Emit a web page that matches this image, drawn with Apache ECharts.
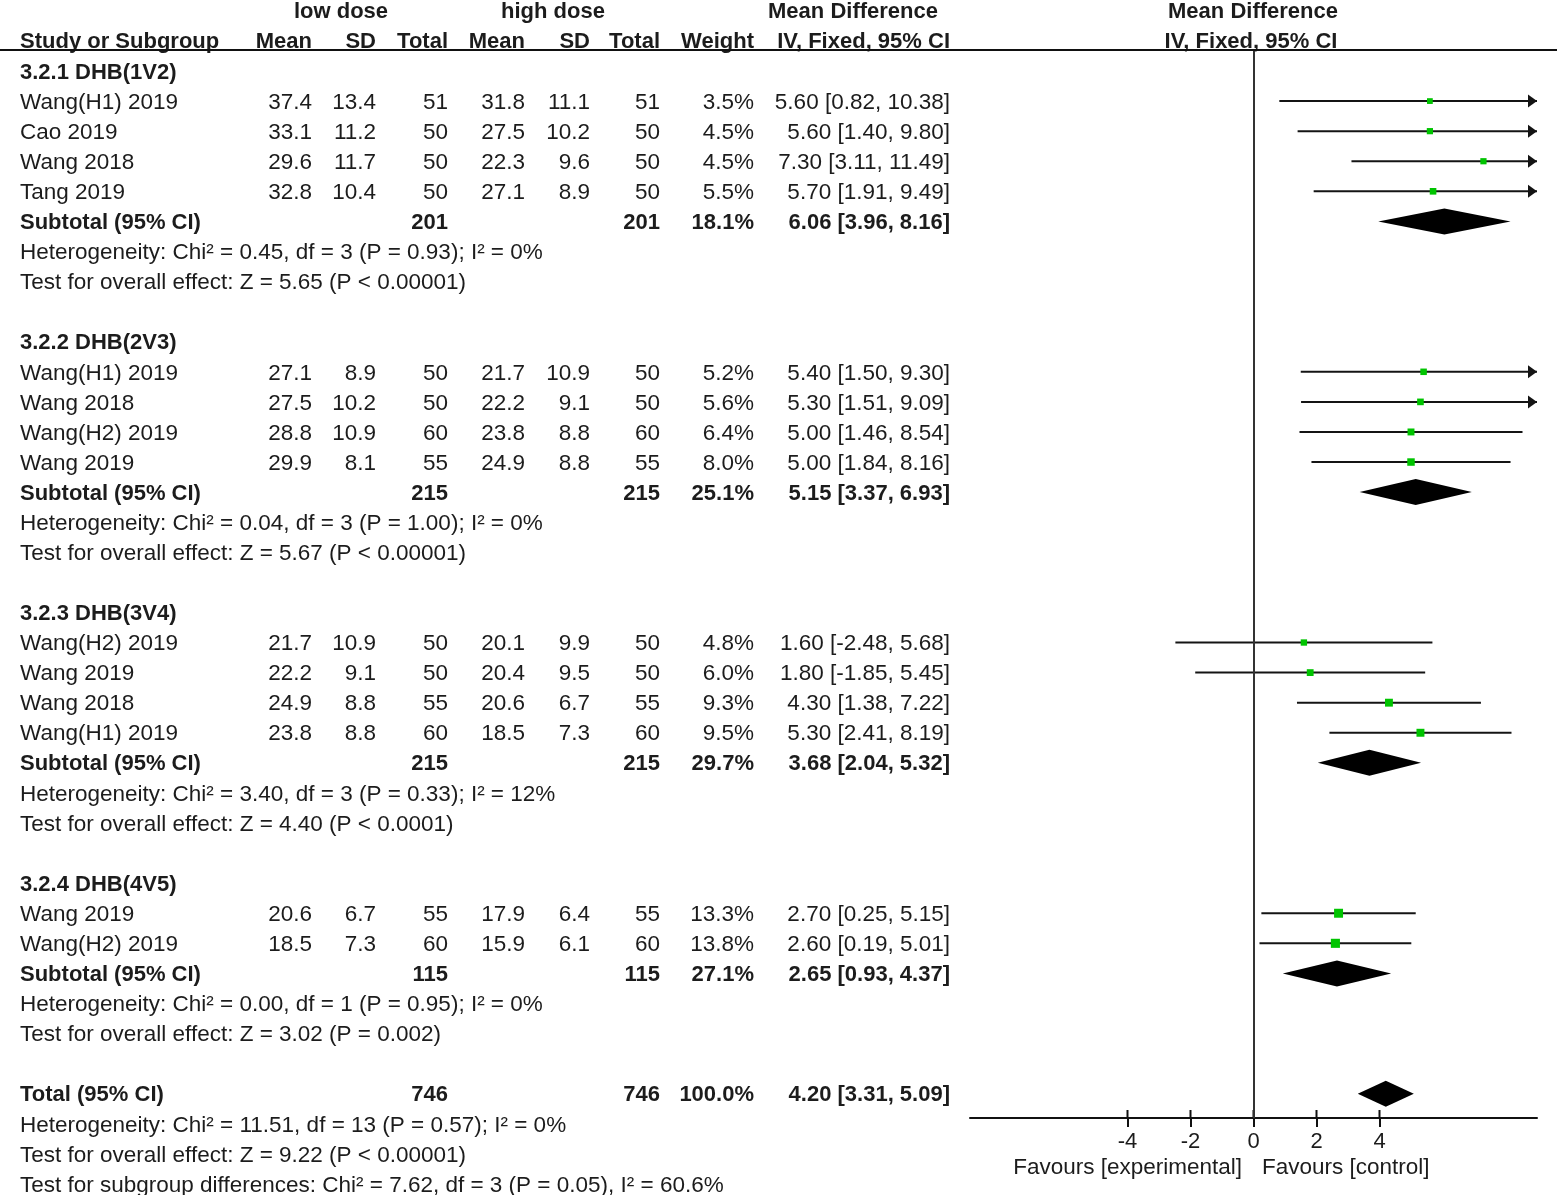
<!DOCTYPE html>
<html>
<head>
<meta charset="utf-8">
<script src="https://cdn.jsdelivr.net/npm/echarts@6/dist/echarts.min.js"></script>
<style>
html,body{margin:0;padding:0;background:#fff;}
#chart{width:1557px;height:1195px;}
</style>
</head>
<body>
<div id="chart"></div>
<script>
// ---------------- DATA ----------------
const subgroupTitles = ['3.2.1 DHB(1V2)', '3.2.2 DHB(2V3)', '3.2.3 DHB(3V4)', '3.2.4 DHB(4V5)'];
const studyGroup = [0, 0, 0, 0, 1, 1, 1, 1, 2, 2, 2, 2, 3, 3];
const studyNames = ['Wang(H1) 2019', 'Cao 2019', 'Wang 2018', 'Tang 2019',
  'Wang(H1) 2019', 'Wang 2018', 'Wang(H2) 2019', 'Wang 2019',
  'Wang(H2) 2019', 'Wang 2019', 'Wang 2018', 'Wang(H1) 2019',
  'Wang 2019', 'Wang(H2) 2019'];
const lowMean = [37.4, 33.1, 29.6, 32.8, 27.1, 27.5, 28.8, 29.9, 21.7, 22.2, 24.9, 23.8, 20.6, 18.5];
const lowSD = [13.4, 11.2, 11.7, 10.4, 8.9, 10.2, 10.9, 8.1, 10.9, 9.1, 8.8, 8.8, 6.7, 7.3];
const lowTotal = [51, 50, 50, 50, 50, 50, 60, 55, 50, 50, 55, 60, 55, 60];
const highMean = [31.8, 27.5, 22.3, 27.1, 21.7, 22.2, 23.8, 24.9, 20.1, 20.4, 20.6, 18.5, 17.9, 15.9];
const highSD = [11.1, 10.2, 9.6, 8.9, 10.9, 9.1, 8.8, 8.8, 9.9, 9.5, 6.7, 7.3, 6.4, 6.1];
const highTotal = [51, 50, 50, 50, 50, 50, 60, 55, 50, 50, 55, 60, 55, 60];
const studyWeight = [3.5, 4.5, 4.5, 5.5, 5.2, 5.6, 6.4, 8.0, 4.8, 6.0, 9.3, 9.5, 13.3, 13.8];
const studyMD = [5.60, 5.60, 7.30, 5.70, 5.40, 5.30, 5.00, 5.00, 1.60, 1.80, 4.30, 5.30, 2.70, 2.60];
const studyLo = [0.82, 1.40, 3.11, 1.91, 1.50, 1.51, 1.46, 1.84, -2.48, -1.85, 1.38, 2.41, 0.25, 0.19];
const studyHi = [10.38, 9.80, 11.49, 9.49, 9.30, 9.09, 8.54, 8.16, 5.68, 5.45, 7.22, 8.19, 5.15, 5.01];

const subtotalLowN = [201, 215, 215, 115];
const subtotalHighN = [201, 215, 215, 115];
const subtotalWeight = [18.1, 25.1, 29.7, 27.1];
const subtotalMD = [6.06, 5.15, 3.68, 2.65];
const subtotalLo = [3.96, 3.37, 2.04, 0.93];
const subtotalHi = [8.16, 6.93, 5.32, 4.37];
const heterogeneityText = [
  'Heterogeneity: Chi² = 0.45, df = 3 (P = 0.93); I² = 0%',
  'Heterogeneity: Chi² = 0.04, df = 3 (P = 1.00); I² = 0%',
  'Heterogeneity: Chi² = 3.40, df = 3 (P = 0.33); I² = 12%',
  'Heterogeneity: Chi² = 0.00, df = 1 (P = 0.95); I² = 0%'
];
const overallEffectText = [
  'Test for overall effect: Z = 5.65 (P < 0.00001)',
  'Test for overall effect: Z = 5.67 (P < 0.00001)',
  'Test for overall effect: Z = 4.40 (P < 0.0001)',
  'Test for overall effect: Z = 3.02 (P = 0.002)'
];
const totalLowN = 746, totalHighN = 746, totalWeight = 100.0;
const totalMD = 4.20, totalLo = 3.31, totalHi = 5.09;
const totalNotes = [
  'Heterogeneity: Chi² = 11.51, df = 13 (P = 0.57); I² = 0%',
  'Test for overall effect: Z = 9.22 (P < 0.00001)',
  'Test for subgroup differences: Chi² = 7.62, df = 3 (P = 0.05), I² = 60.6%'
];
const xTicks = [-4, -2, 0, 2, 4];
const axisMin = -9, axisMax = 9;
const favourLeft = 'Favours [experimental]';
const favourRight = 'Favours [control]';

// ---------------- LAYOUT ----------------
const W = 1557, H = 1195;
const ROW0_Y = 71, ROW_H = 30.08, TEXT_DY = 1.5;
const PLOT_L = 970, PLOT_R = 1537, PLOT_T = 50, PLOT_B = 1118;
const COL = { name: 20, m1: 312, s1: 376, t1: 448, m2: 525, s2: 590, t2: 660, w: 754, ci: 950 };
const FONT = "'Liberation Sans', Arial, sans-serif";
const FS = 22.5, FSB = 22;
const TXT = '#1c1c1c';

const f1 = v => v.toFixed(1);
const f2 = v => v.toFixed(2);
const ciText = (m, l, h) => f2(m) + ' [' + f2(l) + ', ' + f2(h) + ']';

// Build table rows
const tableRows = [];
const studyRows = [];
const diamondRows = [];
tableRows.push({ row: -2, cells: [
  { t: 'low dose', x: 341, a: 'center', b: true },
  { t: 'high dose', x: 553, a: 'center', b: true },
  { t: 'Mean Difference', x: 853, a: 'center', b: true },
  { t: 'Mean Difference', x: 1253, a: 'center', b: true }
]});
tableRows.push({ row: -1, cells: [
  { t: 'Study or Subgroup', x: COL.name, a: 'left', b: true },
  { t: 'Mean', x: COL.m1, a: 'right', b: true },
  { t: 'SD', x: COL.s1, a: 'right', b: true },
  { t: 'Total', x: COL.t1, a: 'right', b: true },
  { t: 'Mean', x: COL.m2, a: 'right', b: true },
  { t: 'SD', x: COL.s2, a: 'right', b: true },
  { t: 'Total', x: COL.t2, a: 'right', b: true },
  { t: 'Weight', x: COL.w, a: 'right', b: true },
  { t: 'IV, Fixed, 95% CI', x: COL.ci, a: 'right', b: true },
  { t: 'IV, Fixed, 95% CI', x: 1251, a: 'center', b: true }
]});
let row = 0;
subgroupTitles.forEach((title, g) => {
  tableRows.push({ row: row, cells: [{ t: title, x: COL.name, a: 'left', b: true }] });
  row++;
  studyNames.forEach((nm, i) => {
    if (studyGroup[i] !== g) return;
    tableRows.push({ row: row, cells: [
      { t: nm, x: COL.name, a: 'left' },
      { t: f1(lowMean[i]), x: COL.m1, a: 'right' },
      { t: f1(lowSD[i]), x: COL.s1, a: 'right' },
      { t: String(lowTotal[i]), x: COL.t1, a: 'right' },
      { t: f1(highMean[i]), x: COL.m2, a: 'right' },
      { t: f1(highSD[i]), x: COL.s2, a: 'right' },
      { t: String(highTotal[i]), x: COL.t2, a: 'right' },
      { t: f1(studyWeight[i]) + '%', x: COL.w, a: 'right' },
      { t: ciText(studyMD[i], studyLo[i], studyHi[i]), x: COL.ci, a: 'right' }
    ]});
    studyRows.push([studyMD[i], studyLo[i], studyHi[i], row, studyWeight[i]]);
    row++;
  });
  tableRows.push({ row: row, cells: [
    { t: 'Subtotal (95% CI)', x: COL.name, a: 'left', b: true },
    { t: String(subtotalLowN[g]), x: COL.t1, a: 'right', b: true },
    { t: String(subtotalHighN[g]), x: COL.t2, a: 'right', b: true },
    { t: f1(subtotalWeight[g]) + '%', x: COL.w, a: 'right', b: true },
    { t: ciText(subtotalMD[g], subtotalLo[g], subtotalHi[g]), x: COL.ci, a: 'right', b: true }
  ]});
  diamondRows.push([subtotalMD[g], subtotalLo[g], subtotalHi[g], row]);
  row++;
  tableRows.push({ row: row, cells: [{ t: heterogeneityText[g], x: COL.name, a: 'left' }] });
  row++;
  tableRows.push({ row: row, cells: [{ t: overallEffectText[g], x: COL.name, a: 'left' }] });
  row++;
  row++; // blank
});
tableRows.push({ row: row, cells: [
  { t: 'Total (95% CI)', x: COL.name, a: 'left', b: true },
  { t: String(totalLowN), x: COL.t1, a: 'right', b: true },
  { t: String(totalHighN), x: COL.t2, a: 'right', b: true },
  { t: f1(totalWeight) + '%', x: COL.w, a: 'right', b: true },
  { t: ciText(totalMD, totalLo, totalHi), x: COL.ci, a: 'right', b: true }
]});
diamondRows.push([totalMD, totalLo, totalHi, row]);
row++;
totalNotes.forEach(n => {
  tableRows.push({ row: row, cells: [{ t: n, x: COL.name, a: 'left' }] });
  row++;
});

const tableYMin = (0 - ROW0_Y) / ROW_H;
const tableYMax = (H - ROW0_Y) / ROW_H;
const plotYMin = (PLOT_T - ROW0_Y) / ROW_H;
const plotYMax = (PLOT_B - ROW0_Y) / ROW_H;

const chart = echarts.init(document.getElementById('chart'), null, { renderer: 'canvas' });
const option = {
  backgroundColor: '#fff',
  animation: false,
  grid: [
    { left: 0, top: 0, width: W, height: H },
    { left: PLOT_L, top: PLOT_T, width: PLOT_R - PLOT_L, height: PLOT_B - PLOT_T }
  ],
  xAxis: [
    { gridIndex: 0, type: 'value', min: 0, max: W, show: false },
    { gridIndex: 1, type: 'value', min: axisMin, max: axisMax, position: 'bottom',
      axisLine: { show: true, onZero: false, lineStyle: { color: '#111', width: 2 } },
      axisTick: { show: true, customValues: xTicks, length: 9, lineStyle: { color: '#111', width: 2 } },
      axisLabel: { show: true, customValues: xTicks, margin: 13, fontSize: 22, fontFamily: FONT, color: TXT },
      splitLine: { show: false } }
  ],
  yAxis: [
    { gridIndex: 0, type: 'value', min: tableYMin, max: tableYMax, inverse: true, show: false },
    { gridIndex: 1, type: 'value', min: plotYMin, max: plotYMax, inverse: true, show: false }
  ],
  graphic: [
    { type: 'line', shape: { x1: 0, y1: PLOT_T, x2: W, y2: PLOT_T }, style: { stroke: '#111', lineWidth: 2 }, z: 10 },
    { type: 'text', x: 1242, y: 1168, style: { text: favourLeft, font: FS + 'px ' + FONT, fill: TXT, align: 'right', verticalAlign: 'middle' } },
    { type: 'text', x: 1262, y: 1168, style: { text: favourRight, font: FS + 'px ' + FONT, fill: TXT, align: 'left', verticalAlign: 'middle' } }
  ],
  series: [
    {
      type: 'custom', name: 'table', xAxisIndex: 0, yAxisIndex: 0, clip: false, silent: true,
      data: tableRows.map(r => [0, r.row]),
      encode: { x: 0, y: 1 },
      renderItem: function (params, api) {
        const r = tableRows[params.dataIndex];
        const y = api.coord([0, r.row])[1] + TEXT_DY;
        return {
          type: 'group',
          children: r.cells.map(c => ({
            type: 'text',
            x: c.x, y: y,
            style: {
              text: c.t,
              font: (c.b ? 'bold ' + FSB : FS) + 'px ' + FONT,
              fill: TXT, align: c.a, verticalAlign: 'middle'
            }
          }))
        };
      }
    },
    {
      // upward half of the axis ticks (ticks cross the axis line)
      type: 'custom', name: 'tickUp', xAxisIndex: 1, yAxisIndex: 1, clip: false, silent: true,
      data: xTicks.map(v => [v, plotYMax]),
      encode: { x: 0, y: 1 },
      renderItem: function (params, api) {
        const p = api.coord([api.value(0), api.value(1)]);
        return { type: 'line', shape: { x1: p[0], y1: p[1], x2: p[0], y2: p[1] - 8 }, style: { stroke: '#111', lineWidth: 2 } };
      }
    },
    {
      type: 'custom', name: 'studies', xAxisIndex: 1, yAxisIndex: 1, clip: false, silent: true,
      data: studyRows,
      encode: { x: [0, 1, 2], y: 3 },
      renderItem: function (params, api) {
        const est = api.value(0), lo = api.value(1), hi = api.value(2), rw = api.value(3), w = api.value(4);
        const loC = Math.max(lo, axisMin), hiC = Math.min(hi, axisMax);
        const pL = api.coord([loC, rw]), pR = api.coord([hiC, rw]), pE = api.coord([est, rw]);
        const ch = [{ type: 'line', shape: { x1: pL[0], y1: pL[1], x2: pR[0], y2: pR[1] }, style: { stroke: '#141414', lineWidth: 2 } }];
        if (hi > axisMax) ch.push({ type: 'polygon', shape: { points: [[pR[0], pR[1]], [pR[0] - 9, pR[1] - 6.5], [pR[0] - 9, pR[1] + 6.5]] }, style: { fill: '#141414' } });
        if (lo < axisMin) ch.push({ type: 'polygon', shape: { points: [[pL[0], pL[1]], [pL[0] + 9, pL[1] - 6.5], [pL[0] + 9, pL[1] + 6.5]] }, style: { fill: '#141414' } });
        const s = 2.4 + 1.8 * Math.sqrt(w);
        ch.push({ type: 'rect', shape: { x: pE[0] - s / 2, y: pE[1] - s / 2, width: s, height: s }, style: { fill: '#00c400' } });
        return { type: 'group', children: ch };
      },
      markLine: {
        silent: true, symbol: 'none', label: { show: false },
        lineStyle: { color: '#333', width: 2, type: 'solid' },
        data: [{ xAxis: 0 }]
      }
    },
    {
      type: 'custom', name: 'diamonds', xAxisIndex: 1, yAxisIndex: 1, clip: false, silent: true,
      data: diamondRows,
      encode: { x: [0, 1, 2], y: 3 },
      renderItem: function (params, api) {
        const est = api.value(0), lo = api.value(1), hi = api.value(2), rw = api.value(3);
        const pL = api.coord([lo, rw]), pR = api.coord([hi, rw]), pE = api.coord([est, rw]);
        const h = 13;
        return { type: 'polygon', shape: { points: [[pL[0], pL[1]], [pE[0], pE[1] - h], [pR[0], pR[1]], [pE[0], pE[1] + h]] }, style: { fill: '#000' } };
      }
    }
  ]
};
chart.setOption(option);
</script>
</body>
</html>
